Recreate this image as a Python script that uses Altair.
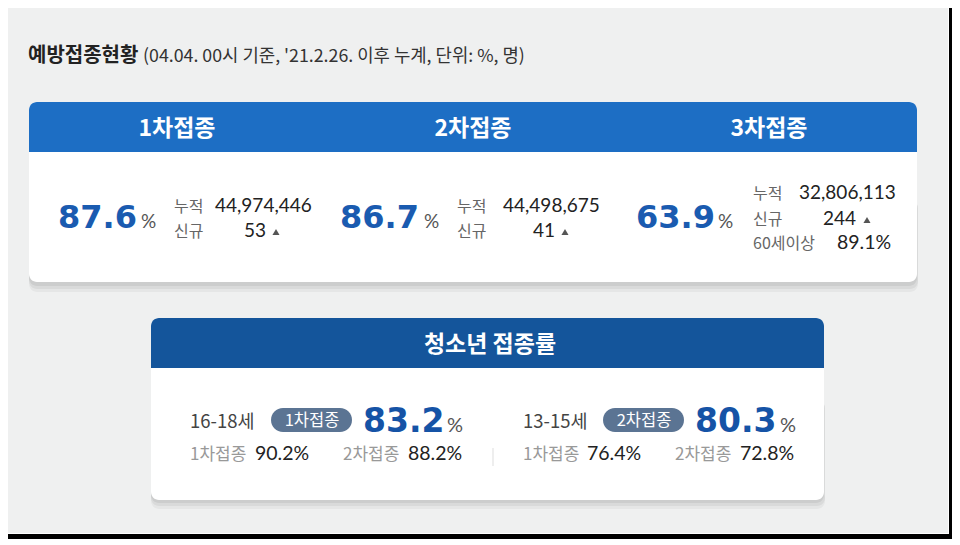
import altair as alt
import pandas as pd

# ---------------- data ----------------
title = "예방접종현황"
subtitle = "(04.04. 00시 기준, '21.2.26. 이후 누계, 단위: %, 명)"
doses = ["1차접종", "2차접종", "3차접종"]
dose_rate = ["87.6", "86.7", "63.9"]
cumulative = ["44,974,446", "44,498,675", "32,806,113"]
new_today = ["53", "41", "244"]
row_labels = ["누적", "신규"]
senior_label = "60세이상"
senior_rate = "89.1%"
teen_title = "청소년 접종률"
teen_groups = ["16-18세", "13-15세"]
teen_badges = ["1차접종", "2차접종"]
teen_rate = ["83.2", "80.3"]
teen_first = ["90.2%", "76.4%"]
teen_second = ["88.2%", "72.8%"]

# ---------------- layout (reference pixel coordinates) ----------------
OFF = 8
W, H = 944, 533
xs = alt.Scale(domain=[OFF, OFF + W], range=[0, W])
ys = alt.Scale(domain=[OFF, OFF + H], range=[0, H])

BLUE_HEAD = "#1d6ec4"
NAVY_HEAD = "#14559b"
NUM_BLUE = "#1a5bb0"
NUM_BLUE2 = "#1553a6"
PILL = "#5b7493"
BG = "#eff0f0"

KR = "Noto Sans CJK KR"
NUM = "Lato"
BIG = "DejaVu Sans"


def X(f="x"):
    return alt.X(f"{f}:Q", scale=xs, axis=None)


def Y(f="y"):
    return alt.Y(f"{f}:Q", scale=ys, axis=None)


def rects(rows, **mark):
    df = pd.DataFrame(rows, columns=["x", "x2", "y", "y2", "color", "op"])
    return alt.Chart(df).mark_rect(**mark).encode(
        x=X(), x2="x2:Q", y=Y(), y2="y2:Q",
        color=alt.Color("color:N", scale=None),
        opacity=alt.Opacity("op:Q", scale=None),
    )


layers = []
# page background and frame
layers.append(rects([[OFF, 949, OFF, 534, BG, 1]]))
layers.append(rects([[948, 949, OFF, 534, "#ffffff", 1],
                     [OFF, 949, 533, 534, "#ffffff", 1]]))
layers.append(rects([[949, 953, OFF, 539, "#000000", 1],
                     [OFF, 953, 534, 539, "#000000", 1]]))

# card shadows
layers.append(rects([[29, 918, 200, 292, "#000000", 0.04],
                     [29, 918, 200, 289, "#000000", 0.05],
                     [29, 917, 200, 286, "#000000", 0.06],
                     [151, 825, 400, 509, "#000000", 0.04],
                     [151, 825, 400, 506, "#000000", 0.05],
                     [151, 824, 400, 503, "#000000", 0.06]], cornerRadius=8))
# card bodies
layers.append(rects([[29, 917, 102, 282, "#ffffff", 1],
                     [151, 824, 318, 500, "#ffffff", 1]], cornerRadius=8))
# card headers
layers.append(rects([[29, 917, 102, 152, BLUE_HEAD, 1],
                     [151, 824, 318, 368, NAVY_HEAD, 1]],
                    cornerRadiusTopLeft=8, cornerRadiusTopRight=8))
# badges
layers.append(rects([[271, 352, 408, 432, PILL, 1],
                     [603, 684, 408, 432, PILL, 1]], cornerRadius=12))

# divider
div = pd.DataFrame({"x": [493], "y": [448], "y2": [466]})
layers.append(alt.Chart(div).mark_rule(color="#dddddd", strokeWidth=1).encode(
    x=X(), y=Y(), y2="y2:Q"))

# triangles after "new" numbers
tri = pd.DataFrame({"x": [276, 565, 867], "y": [232, 232, 220]})
layers.append(alt.Chart(tri).mark_point(shape="triangle-up", filled=True, size=50,
                                         color="#555555", opacity=1).encode(x=X(), y=Y()))

# ---------------- texts ----------------
texts = []  # (style, text, x, y, size, color)


def T(style, text, x, y, size, color):
    texts.append(dict(style=style, text=text, x=x, y=y, size=size, color=color))


T("kr_bold_left", title, 28, 62, 20, "#222222")
T("kr_left", subtitle, 143, 62, 17.8, "#333333")

head_x = [177, 473, 769]
for i, d in enumerate(doses):
    T("kr_bold_center", d, head_x[i], 136, 23, "#ffffff")

big_x = [58, 340, 636]
pct_x = [141, 424, 718]
lab_x = [174, 457, 753]
val_x = [215, 503, 799]
new_x = [244, 533, 823]
row_y = [[212, 237], [212, 237], [199, 225]]
for i in range(3):
    T("big", dose_rate[i], big_x[i], 228, 32, NUM_BLUE)
    T("num_left", "%", pct_x[i], 228, 19, "#555555")
    T("kr_left", row_labels[0], lab_x[i], row_y[i][0], 16, "#666666")
    T("kr_left", row_labels[1], lab_x[i], row_y[i][1], 16, "#666666")
    T("num_left", cumulative[i], val_x[i], row_y[i][0], 19, "#222222")
    T("num_left", new_today[i], new_x[i], row_y[i][1], 19, "#222222")
T("kr_left", senior_label, 753, 249, 16, "#666666")
T("num_left", senior_rate, 837, 249, 19.5, "#222222")

T("kr_bold_center", teen_title, 490, 352, 23, "#ffffff")
grp_x = [190, 523]
badge_cx = [312, 644]
tbig_x = [363, 695]
tpct_x = [447, 780]
f1_x = [190, 523]
f1v_x = [255, 587]
s2_x = [343, 675]
s2v_x = [408, 740]
for i in range(2):
    T("kr_left", teen_groups[i], grp_x[i], 428, 18.5, "#444444")
    T("kr_center", teen_badges[i], badge_cx[i], 426, 16.5, "#ffffff")
    T("big", teen_rate[i], tbig_x[i], 432, 33, NUM_BLUE2)
    T("num_left", "%", tpct_x[i], 432, 20, "#555555")
    T("kr_left", doses[0], f1_x[i], 460, 17, "#999999")
    T("num_left", teen_first[i], f1v_x[i], 460, 19.5, "#222222")
    T("kr_left", doses[1], s2_x[i], 460, 17, "#999999")
    T("num_left", teen_second[i], s2v_x[i], 460, 19.5, "#222222")

tdf = pd.DataFrame(texts)
styles = {
    "kr_bold_left": dict(font=KR, fontWeight="bold", align="left"),
    "kr_left": dict(font=KR, fontWeight="normal", align="left"),
    "kr_bold_center": dict(font=KR, fontWeight="bold", align="center"),
    "kr_center": dict(font=KR, fontWeight="normal", align="center"),
    "big": dict(font=BIG, fontWeight="bold", align="left"),
    "num_left": dict(font=NUM, fontWeight="normal", align="left"),
}
for key, st in styles.items():
    sub = tdf[tdf["style"] == key]
    layers.append(alt.Chart(sub).mark_text(baseline="alphabetic", **st).encode(
        x=X(), y=Y(), text="text:N",
        size=alt.Size("size:Q", scale=None),
        color=alt.Color("color:N", scale=None),
    ))

chart = alt.layer(*layers).properties(
    width=W, height=H, padding=0,
    autosize=alt.AutoSizeParams(type="none"),
    background="#ffffff",
).configure_view(stroke=None)

chart.save("out.html", embed_options={"renderer": "svg", "actions": False})
